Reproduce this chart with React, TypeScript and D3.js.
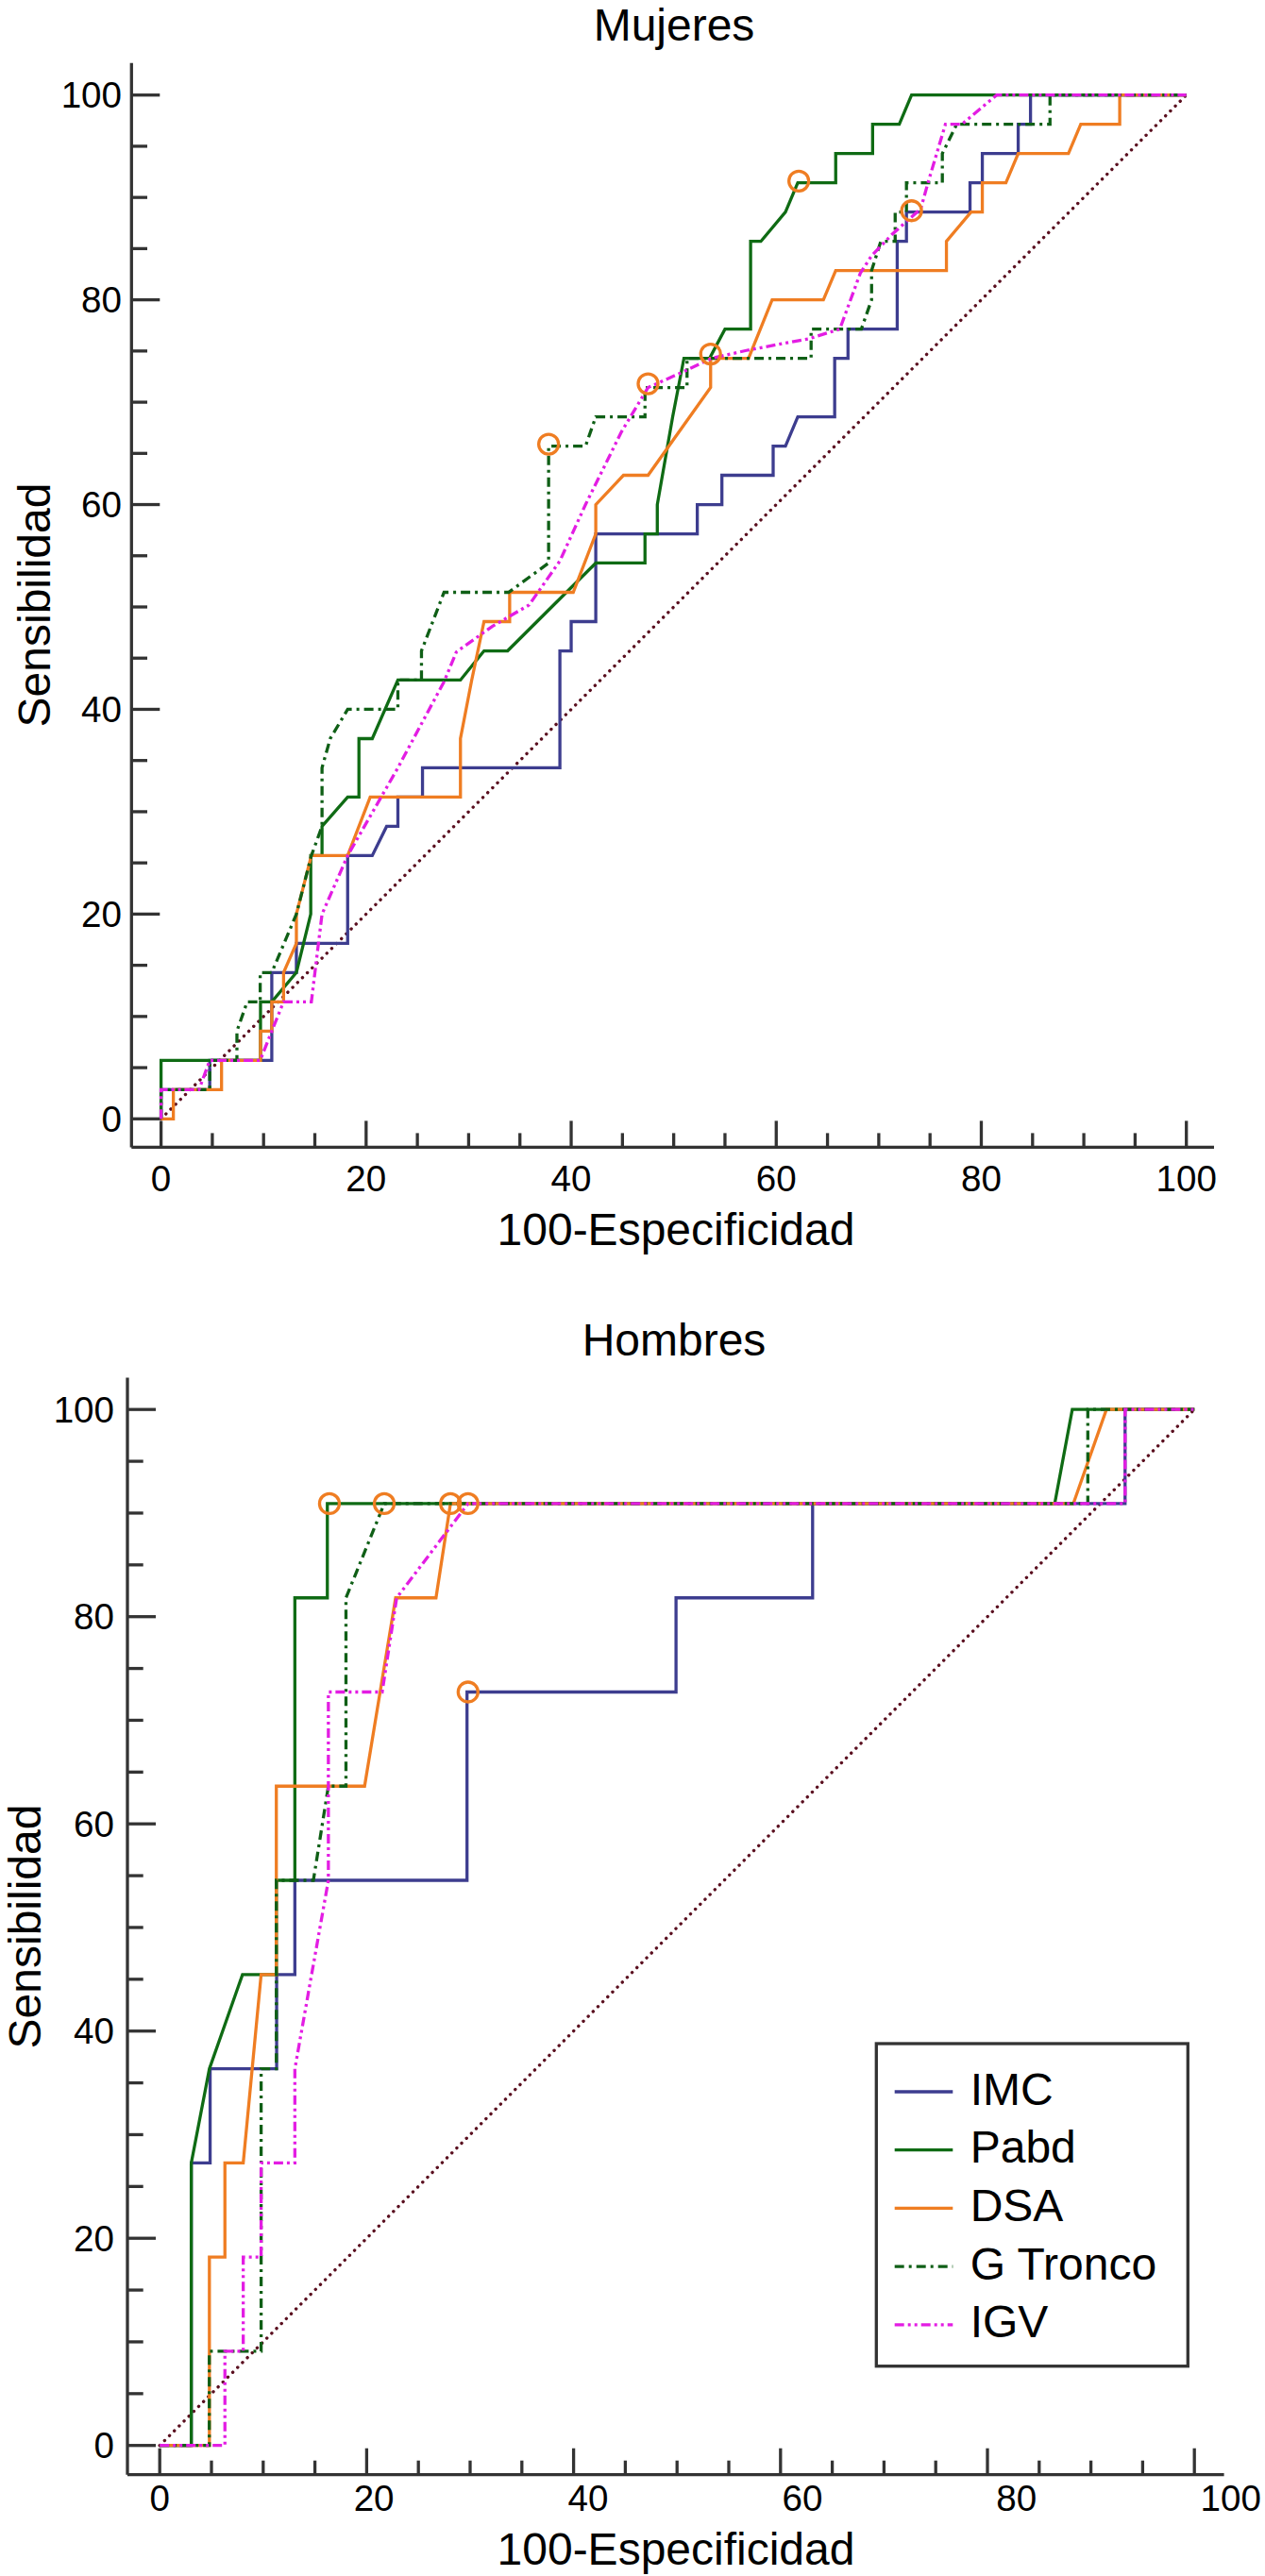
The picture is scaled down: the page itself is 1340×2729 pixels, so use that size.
import React from "react";
import * as d3 from "d3";

// ---- data (x = 100-Especificidad, y = Sensibilidad) ----
const mujeresIMC = [[0,0],[0,2.86],[4.75,2.86],[4.75,5.71],[10.8,5.71],[10.8,14.29],[13.2,14.29],[13.2,17.14],[18.2,17.14],[18.2,25.71],[20.6,25.71],[22.0,28.57],[23.1,28.57],[23.1,31.43],[25.5,31.43],[25.5,34.29],[38.9,34.29],[38.9,45.71],[40.0,45.71],[40.0,48.57],[42.4,48.57],[42.4,57.14],[52.3,57.14],[52.3,60.0],[54.7,60.0],[54.7,62.86],[59.7,62.86],[59.7,65.71],[60.9,65.71],[62.1,68.57],[65.7,68.57],[65.7,74.29],[67.0,74.29],[67.0,77.14],[71.8,77.14],[71.8,85.71],[72.7,85.71],[72.7,88.57],[78.9,88.57],[78.9,91.43],[80.1,91.43],[80.1,94.29],[83.6,94.29],[83.6,97.14],[84.8,97.14],[84.8,100],[100,100]];
const mujeresPabd = [[0,0],[0,5.71],[9.7,5.71],[9.7,11.43],[10.8,11.43],[13.2,14.29],[14.6,20.0],[14.6,25.71],[15.7,25.71],[15.7,28.57],[18.2,31.43],[19.3,31.43],[19.3,37.14],[20.6,37.14],[23.1,42.86],[29.2,42.86],[31.5,45.71],[33.8,45.71],[42.4,54.29],[47.2,54.29],[47.2,57.14],[48.4,57.14],[48.4,60.0],[49.9,68.57],[51.0,74.29],[53.5,74.29],[55.0,77.14],[57.5,77.14],[57.5,85.71],[58.5,85.71],[60.9,88.57],[62.1,91.43],[65.8,91.43],[65.8,94.29],[69.4,94.29],[69.4,97.14],[72.0,97.14],[73.2,100],[100,100]];
const mujeresDSA = [[0,0],[1.2,0],[1.2,2.86],[5.9,2.86],[5.9,5.71],[9.7,5.71],[9.7,8.57],[10.8,8.57],[10.8,11.43],[11.95,11.43],[11.95,14.29],[13.2,17.14],[13.2,20.0],[14.66,25.71],[18.2,25.71],[20.4,31.43],[29.2,31.43],[29.2,37.14],[30.3,42.86],[31.5,48.57],[34.0,48.57],[34.0,51.43],[40.2,51.43],[42.4,57.14],[42.4,60.0],[45.1,62.86],[47.5,62.86],[53.6,71.43],[53.6,74.29],[57.3,74.29],[59.6,80.0],[64.6,80.0],[65.8,82.86],[76.6,82.86],[76.6,85.71],[79.0,88.57],[80.1,88.57],[80.1,91.43],[82.4,91.43],[83.6,94.29],[88.5,94.29],[89.7,97.14],[93.5,97.14],[93.5,100],[100,100]];
const mujeresGTronco = [[0,0],[0,2.86],[4.75,2.86],[4.75,5.71],[7.4,5.71],[7.4,8.57],[8.4,11.43],[9.67,11.43],[9.67,14.29],[10.8,14.29],[13.2,20.0],[14.66,25.71],[15.7,28.57],[15.7,34.29],[16.5,37.14],[18.2,40.0],[23.1,40.0],[23.1,42.86],[25.4,42.86],[25.4,45.71],[27.6,51.43],[33.9,51.43],[37.8,54.29],[37.8,65.71],[41.4,65.71],[42.4,68.57],[47.2,68.57],[47.2,71.43],[51.3,71.43],[51.3,74.29],[63.4,74.29],[63.4,77.14],[68.3,77.14],[69.3,80.0],[69.3,82.86],[70.2,85.71],[71.6,85.71],[71.6,88.57],[72.7,88.57],[72.7,91.43],[76.2,91.43],[76.2,94.29],[77.6,97.14],[86.7,97.14],[86.7,100],[100,100]];
const mujeresIGV = [[0,0],[0,2.86],[3.7,2.86],[4.75,5.71],[9.67,5.71],[10.8,8.57],[11.95,11.43],[14.66,11.43],[15.7,20.0],[18.2,25.71],[23.1,34.29],[27.6,42.7],[28.8,45.6],[32.3,48.1],[35.9,50.2],[38.9,54.5],[41.4,60.0],[44.9,67.1],[47.5,71.43],[51.2,73.1],[53.7,74.29],[57.3,75.1],[63.2,76.2],[66.2,77.14],[68.2,82.6],[69.3,84.3],[71.3,86.4],[74.1,88.9],[74.8,91.43],[76.5,97.14],[78.1,97.14],[81.5,100],[100,100]];
const mujeresCortes = [[37.8,65.9],[47.5,71.8],[53.6,74.7],[62.2,91.6],[73.2,88.7]];

const hombresIMC = [[0,0],[3.05,0],[3.05,27.27],[4.87,27.27],[4.87,36.36],[11.3,36.36],[11.3,45.45],[13.06,45.45],[13.06,54.55],[29.7,54.55],[29.7,72.73],[49.9,72.73],[49.9,81.82],[63.1,81.82],[63.1,90.91],[93.3,90.91],[93.3,100],[100,100]];
const hombresPabd = [[0,0],[3.05,0],[3.05,27.27],[4.8,36.36],[8.0,45.45],[11.27,45.45],[11.27,54.55],[13.06,54.55],[13.06,81.82],[16.2,81.82],[16.2,90.91],[86.5,90.91],[88.2,100],[100,100]];
const hombresDSA = [[0,0],[4.8,0],[4.8,18.18],[6.3,18.18],[6.3,27.27],[8.07,27.27],[9.8,45.45],[11.27,45.45],[11.27,63.64],[19.8,63.64],[22.8,81.82],[26.7,81.82],[28.1,90.91],[88.3,90.91],[91.5,100],[100,100]];
const hombresGTronco = [[0,0],[4.79,0],[4.79,9.09],[9.8,9.09],[9.8,36.36],[11.27,36.36],[11.27,54.55],[14.85,54.55],[16.3,63.64],[18.0,63.64],[18.0,81.82],[21.7,90.91],[89.7,90.91],[89.7,100],[100,100]];
const hombresIGV = [[0,0],[6.3,0],[6.3,9.09],[8.07,9.09],[8.07,18.18],[9.8,18.18],[9.8,27.27],[13.06,27.27],[13.06,36.36],[16.3,54.55],[16.3,72.73],[21.5,72.73],[22.9,81.82],[29.8,90.91],[93.3,90.91],[93.3,100],[100,100]];
const hombresCortes = [[16.4,90.91],[21.7,90.91],[28.1,90.91],[29.8,90.91],[29.8,72.73]];

const variables = ["IMC", "Pabd", "DSA", "G Tronco", "IGV"];
const colores = ["#3d3d8f", "#0f6b14", "#ef7d22", "#0f5f16", "#e31de3"];
const guiones = ["", "", "", "10 5 3 5", "10 4 3 4 3 4"];
const ticks = d3.range(0, 101, 5);

const FONT = '"Liberation Sans", Arial, Helvetica, sans-serif';
const AXIS = "#333333";

type Lay = {
  x0: number; x100: number; y0: number; y100: number;
  axX: number; axY: number; axTop: number; axRight: number;
  labelShift: number; yLabelX: number; xLabelY: number;
  titleY: number; xTitleY: number; yTitleX: number; yTitleY: number;
};

const Panel = ({ title, lay, curves, cortes, legend }: { title: string; lay: Lay; curves: number[][][]; cortes: number[][]; legend: boolean }) => {
  const x = d3.scaleLinear().domain([0, 100]).range([lay.x0, lay.x100]);
  const y = d3.scaleLinear().domain([0, 100]).range([lay.y0, lay.y100]);
  // tick labels in the original drift slightly to the right
  const xl = d3.scaleLinear().domain([0, 100]).range([lay.x0, lay.x100 + lay.labelShift]);
  const line = d3.line<number[]>().x(d => x(d[0])).y(d => y(d[1]));

  return (
    <g fontFamily={FONT}>
      <text x={714} y={lay.titleY} fontSize={48} textAnchor="middle">{title}</text>

      {/* axes */}
      <line x1={lay.axX} x2={lay.axX} y1={lay.axTop} y2={lay.axY} stroke={AXIS} strokeWidth={3.3} />
      <line x1={lay.axX} x2={lay.axRight} y1={lay.axY} y2={lay.axY} stroke={AXIS} strokeWidth={3.3} />
      {ticks.map(t => (
        <g key={"t" + t}>
          <line x1={lay.axX} x2={lay.axX + (t % 20 === 0 ? 30 : 16.7)} y1={y(t)} y2={y(t)} stroke={AXIS} strokeWidth={3.3} />
          <line x1={x(t)} x2={x(t)} y1={lay.axY} y2={lay.axY - (t % 20 === 0 ? 28 : 15)} stroke={AXIS} strokeWidth={3.3} />
          {t % 20 === 0 && (
            <>
              <text x={lay.yLabelX} y={y(t)} fontSize={38.6} textAnchor="end" dominantBaseline="central">{t}</text>
              <text x={xl(t)} y={lay.xLabelY} fontSize={38.6} textAnchor="middle">{t}</text>
            </>
          )}
        </g>
      ))}
      <text x={716} y={lay.xTitleY} fontSize={48} textAnchor="middle">100-Especificidad</text>
      <text transform={`translate(${lay.yTitleX},${lay.yTitleY}) rotate(-90)`} fontSize={48} textAnchor="middle">Sensibilidad</text>

      {/* reference diagonal */}
      <path d={line([[0, 0], [100, 100]]) || ""} fill="none" stroke="#5a0f1f" strokeWidth={3.4} strokeDasharray="0.1 7.2" strokeLinecap="round" />

      {curves.map((c, i) => (
        <path key={variables[i]} d={line(c) || ""} fill="none" stroke={colores[i]} strokeWidth={3.3}
          strokeDasharray={guiones[i] || undefined} strokeLinejoin="miter" />
      ))}

      {cortes.map((p, i) => (
        <circle key={"c" + i} cx={x(p[0])} cy={y(p[1])} r={10.5} fill="none" stroke="#ef7d22" strokeWidth={3.3} />
      ))}

      {legend && (
        <g>
          <rect x={928.3} y={2165} width={330} height={341.7} fill="white" stroke={AXIS} strokeWidth={3.3} />
          {variables.map((v, i) => {
            const ry = 2216 + i * 61.7;
            return (
              <g key={"l" + v}>
                <line x1={947.7} x2={1009.3} y1={ry} y2={ry} stroke={colores[i]} strokeWidth={3.3} strokeDasharray={guiones[i] || undefined} />
                <text x={1027.7} y={ry - 3} fontSize={48} dominantBaseline="central">{v}</text>
              </g>
            );
          })}
        </g>
      )}
    </g>
  );
};

const layMujeres: Lay = {
  x0: 170.6, x100: 1256.7, y0: 1185.3, y100: 100.7,
  axX: 139.3, axY: 1215.4, axTop: 66.7, axRight: 1286,
  labelShift: 0, yLabelX: 129, xLabelY: 1262,
  titleY: 43, xTitleY: 1319, yTitleX: 53, yTitleY: 641,
};

const layHombres: Lay = {
  x0: 169.2, x100: 1265.2, y0: 2590.7, y100: 1493.2,
  axX: 135, axY: 2621.7, axTop: 1459.6, axRight: 1296.6,
  labelShift: 38.5, yLabelX: 121, xLabelY: 2660,
  titleY: 1436, xTitleY: 2717, yTitleX: 43, yTitleY: 2041,
};

export default function App() {
  return (
    <div style={{ position: "absolute", left: 0, top: 0, background: "#fff" }}>
      <svg width={1340} height={2729} style={{ display: "block" }}>
        <rect width={1340} height={2729} fill="#fff" />
        <Panel title="Mujeres" lay={layMujeres} legend={false}
          curves={[mujeresIMC, mujeresPabd, mujeresDSA, mujeresGTronco, mujeresIGV]} cortes={mujeresCortes} />
        <Panel title="Hombres" lay={layHombres} legend={true}
          curves={[hombresIMC, hombresPabd, hombresDSA, hombresGTronco, hombresIGV]} cortes={hombresCortes} />
      </svg>
    </div>
  );
}
